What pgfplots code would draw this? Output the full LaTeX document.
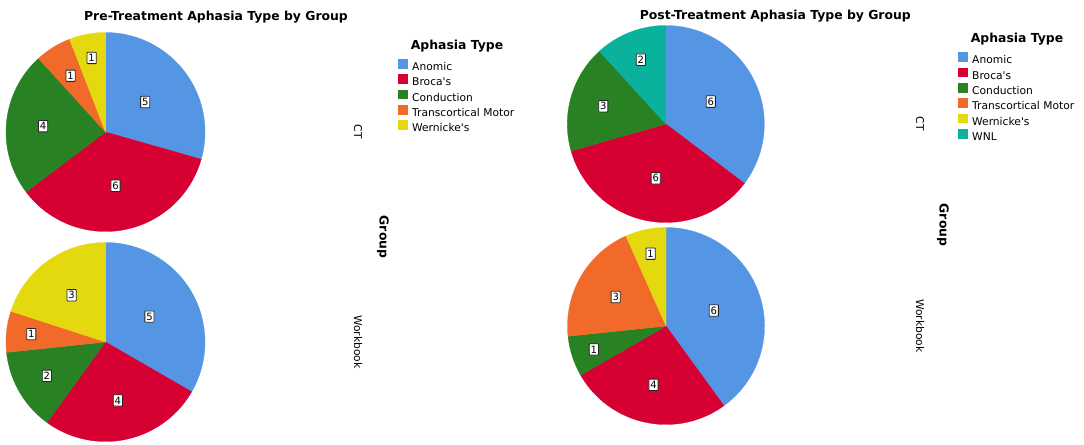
\documentclass[border=0pt]{standalone}
\usepackage{fontspec}
\setmainfont{DejaVu Sans}
\usepackage{pgfplots}
\usepackage{pgfplotstable}
\pgfplotsset{compat=1.18}

\definecolor{cAnomic}{RGB}{84,150,228}
\definecolor{cBroca}{RGB}{214,0,50}
\definecolor{cConduction}{RGB}{40,130,36}
\definecolor{cTranscortical}{RGB}{242,106,42}
\definecolor{cWernicke}{RGB}{228,216,14}
\definecolor{cWNL}{RGB}{10,178,158}

% counts per aphasia type; lr = radial position of the count label (fraction of radius)
\pgfplotstableread{
key count lr
Anomic 5 0.50
Broca 6 0.55
Conduction 4 0.63
Transcortical 1 0.665
Wernicke 1 0.757
}\preCT
\pgfplotstableread{
key count lr
Anomic 5 0.51
Broca 4 0.60
Conduction 2 0.68
Transcortical 1 0.75
Wernicke 3 0.58
}\preWB
\pgfplotstableread{
key count lr
Anomic 6 0.51
Broca 6 0.56
Conduction 3 0.66
WNL 2 0.70
}\postCT
\pgfplotstableread{
key count lr
Anomic 6 0.51
Broca 4 0.61
Conduction 1 0.77
Transcortical 3 0.59
Wernicke 1 0.75
}\postWB

\tikzset{
  lbl/.style={draw=black!85, fill=white, line width=0.8bp, inner xsep=1.4bp, inner ysep=2bp,
    rounded corners=0.6bp, font=\fontsize{10bp}{11bp}\selectfont},
  ttl/.style={anchor=base, font=\fontsize{12.4bp}{14bp}\selectfont\bfseries},
  rot/.style={rotate=-90, font=\fontsize{10.7bp}{12bp}\selectfont},
  rotb/.style={rotate=-90, font=\fontsize{12.4bp}{14bp}\selectfont\bfseries},
}

\newcommand\pieslice[8]{%
  \addplot[fill=#6, draw=#6, line width=0.3bp, domain=#5:#4, samples=90, variable=\t, forget plot]
    ({#1+#3*cos(\t)},{#2-#3*sin(\t)}) -- (axis cs:#1,#2) -- cycle;
  \pgfmathsetmacro\lx{#1+#8*#3*cos((#4+#5)/2)}%
  \pgfmathsetmacro\ly{#2-#8*#3*sin((#4+#5)/2)}%
  \edef\doitlbl{\noexpand\node[lbl] at (axis cs:\lx,\ly) {#7};}\doitlbl
}

\newcommand\drawpie[4]{%
  \pgfplotstablegetrowsof{#1}\edef\nr{\pgfplotsretval}%
  \pgfmathtruncatemacro\last{\nr-1}%
  \def\tot{0}%
  \pgfplotsforeachungrouped \i in {0,...,\last}{%
    \pgfplotstablegetelem{\i}{count}\of{#1}%
    \pgfmathsetmacro\tot{\tot+\pgfplotsretval}%
  }%
  \def\astart{90}%
  \pgfplotsforeachungrouped \i in {0,...,\last}{%
    \pgfplotstablegetelem{\i}{count}\of{#1}\edef\cnt{\pgfplotsretval}%
    \pgfplotstablegetelem{\i}{key}\of{#1}\edef\key{\pgfplotsretval}%
    \pgfplotstablegetelem{\i}{lr}\of{#1}\edef\lr{\pgfplotsretval}%
    \pgfmathsetmacro\aend{\astart-360*\cnt/\tot}%
    \edef\doit{\noexpand\pieslice{#2}{#3}{#4}{\astart}{\aend}{c\key}{\cnt}{\lr}}\doit
    \let\astart\aend
  }%
}

\pgfplotsset{canvas/.style={
  width=1084bp, height=445bp, scale only axis,
  xmin=0, xmax=1084, ymin=0, ymax=445, y dir=reverse,
  axis lines=none, clip=false,
  legend cell align=left,
  legend image code/.code={\fill[##1, draw=none] (0bp,-0.9bp) rectangle (10bp,8.7bp);},
  legend style={draw=none, fill=none, inner sep=0pt, anchor=north west,
    column sep=4bp, row sep=0pt,
    nodes={inner xsep=0pt, inner ysep=1.4bp, text height=8bp, text depth=2.5bp,
      font=\fontsize{10.7bp}{12bp}\selectfont}},
}}

\begin{document}
\begin{tikzpicture}
\useasboundingbox (0,0) rectangle (1084bp,445bp);
% ---------- Pre-treatment ----------
\begin{axis}[canvas, legend style={at={(0.36716,0.86787)}}]
\drawpie{\preCT}{105.5}{132}{99.5}
\drawpie{\preWB}{105.5}{342}{99.5}
\addlegendimage{fill=cAnomic}\addlegendentry{Anomic}
\addlegendimage{fill=cBroca}\addlegendentry{Broca\textquotesingle s}
\addlegendimage{fill=cConduction}\addlegendentry{Conduction}
\addlegendimage{fill=cTranscortical}\addlegendentry{Transcortical Motor}
\addlegendimage{fill=cWernicke}\addlegendentry{Wernicke\textquotesingle s}
\node[ttl] at (axis cs:216,21) {Pre-Treatment Aphasia Type by Group};
\node[ttl] at (axis cs:457,49.3) {Aphasia Type};
\node[rot] at (axis cs:358,132) {CT};
\node[rotb] at (axis cs:383,237) {Group};
\node[rot] at (axis cs:358,342) {Workbook};
\end{axis}
% ---------- Post-treatment ----------
\begin{axis}[canvas, legend style={at={(0.88376,0.8827)}}]
\drawpie{\postCT}{665.8}{124}{98.5}
\drawpie{\postWB}{666}{326}{98.5}
\addlegendimage{fill=cAnomic}\addlegendentry{Anomic}
\addlegendimage{fill=cBroca}\addlegendentry{Broca\textquotesingle s}
\addlegendimage{fill=cConduction}\addlegendentry{Conduction}
\addlegendimage{fill=cTranscortical}\addlegendentry{Transcortical Motor}
\addlegendimage{fill=cWernicke}\addlegendentry{Wernicke\textquotesingle s}
\addlegendimage{fill=cWNL}\addlegendentry{WNL}
\node[ttl] at (axis cs:775.3,20) {Post-Treatment Aphasia Type by Group};
\node[ttl] at (axis cs:1017,43) {Aphasia Type};
\node[rot] at (axis cs:920,124) {CT};
\node[rotb] at (axis cs:943,225) {Group};
\node[rot] at (axis cs:920,326) {Workbook};
\end{axis}
\end{tikzpicture}
\end{document}
